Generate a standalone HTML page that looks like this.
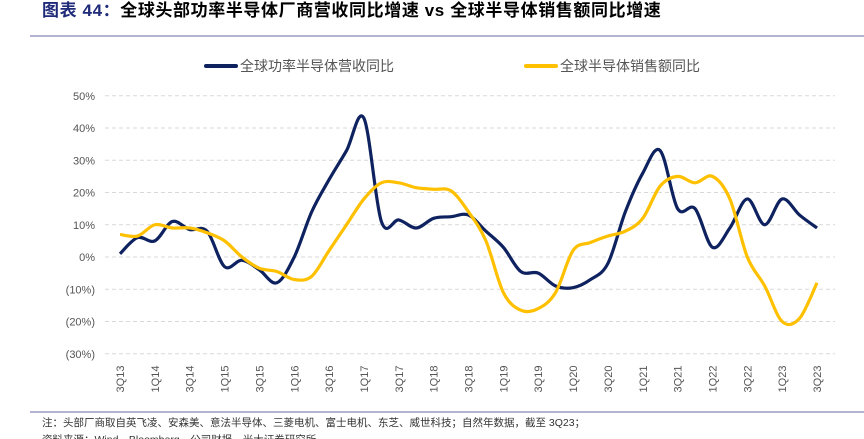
<!DOCTYPE html>
<html><head><meta charset="utf-8"><style>
body{margin:0;background:#fff;width:864px;height:439px;overflow:hidden;font-family:"Liberation Sans","Noto Sans CJK SC",sans-serif}
</style></head><body>
<svg width="864" height="439" style="position:absolute;left:0;top:0">
<text x="42" y="16" font-size="17" font-weight="bold" fill="#1f2a78" letter-spacing="0.6" font-family="'Liberation Sans','Noto Sans CJK SC',sans-serif">图表 44：<tspan fill="#000">全球头部功率半导体厂商营收同比增速 vs 全球半导体销售额同比增速</tspan></text>
<line x1="30" y1="36" x2="864" y2="36" stroke="#9a9ac6" stroke-width="1.5"/>
<g id="legend">
<line x1="206" y1="66" x2="236" y2="66" stroke="#0e2260" stroke-width="4" stroke-linecap="round"/>
<text x="240" y="71" font-size="14" fill="#555">全球功率半导体营收同比</text>
<line x1="526" y1="66" x2="556" y2="66" stroke="#ffc000" stroke-width="4" stroke-linecap="round"/>
<text x="560" y="71" font-size="14" fill="#555">全球半导体销售额同比</text>
</g>
<g id="grid"></g><g id="ylab"></g><g id="xlab"></g><g id="series"></g>
<line x1="30" y1="412" x2="864" y2="412" stroke="#9a9ac6" stroke-width="1.5"/>
<text x="42" y="426" font-size="10.5" fill="#333">注：头部厂商取自英飞凌、安森美、意法半导体、三菱电机、富士电机、东芝、威世科技；自然年数据，截至 3Q23；</text>
<text x="42" y="443" font-size="10.5" fill="#333">资料来源：Wind，Bloomberg，公司财报，光大证券研究所</text>
</svg>
<script>
const categories=[];
for(let i=0;i<41;i++){const q=(2+i)%4+1;const y=13+Math.floor((2+i)/4);categories.push(q+"Q"+y);}
const powerRevenueYoY=[1,6,5,11,8.5,8,-3,-1,-4,-8,0,14,24,33,43,11,11.5,9,12,12.5,13,8,3,-4.5,-5,-9,-9.5,-7,-2,14,26,33,15,15,3,9,18,10,18,13,9];
const semiSalesYoY=[7,6.5,10,9,9,7.5,5,0,-3.5,-4.5,-7,-6,2,10,18,23,23,21.5,21,20.5,14,5,-11,-16.5,-16,-11,2,4.5,6.5,8,12,22,25,23,25,18,0,-9,-20,-19,-8];
const yTicks=[50,40,30,20,10,0,-10,-20,-30];
const yTickLabels=["50%","40%","30%","20%","10%","0%","(10%)","(20%)","(30%)"];
const NS="http://www.w3.org/2000/svg";
function X(i){return 120+i*(817-120)/(categories.length-1);}
function Y(v){return 257-v*3.225;}
function mk(t,a,p){const e=document.createElementNS(NS,t);for(const k in a)e.setAttribute(k,a[k]);document.getElementById(p).appendChild(e);return e;}
yTicks.forEach((v,k)=>{
 const l=mk('line',{x1:105,x2:835,y1:Y(v),y2:Y(v),stroke:'#d9d9d9','stroke-dasharray':'4,3'},'grid');
 
 
 const t=mk('text',{x:95,y:Y(v)+4,'font-size':11,fill:'#555','text-anchor':'end'},'ylab');
 t.textContent=yTickLabels[k];
 
 
});
categories.forEach((c,i)=>{if(i%2)return;
 const t=mk('text',{x:0,y:0,'font-size':11,fill:'#555','text-anchor':'middle',transform:`translate(${X(i)+4},379) rotate(-90)`},'xlab');
 t.textContent=c;
 
 
});
function path(vals){const p=vals.map((v,i)=>[X(i),Y(v)]);let d=`M${p[0][0]},${p[0][1]}`;
 for(let i=0;i<p.length-1;i++){const p0=p[i-1]||p[i],p1=p[i],p2=p[i+1],p3=p[i+2]||p2;
  const c1=[p1[0]+(p2[0]-p0[0])/6,p1[1]+(p2[1]-p0[1])/6],c2=[p2[0]-(p3[0]-p1[0])/6,p2[1]-(p3[1]-p1[1])/6];
  d+=` C${c1[0]},${c1[1]} ${c2[0]},${c2[1]} ${p2[0]},${p2[1]}`;}return d;}
const s1=mk('path',{d:path(powerRevenueYoY),fill:'none',stroke:'#0e2260','stroke-width':3.2},'series');


const s2=mk('path',{d:path(semiSalesYoY),fill:'none',stroke:'#ffc000','stroke-width':3.2},'series');


</script>
</body></html>
